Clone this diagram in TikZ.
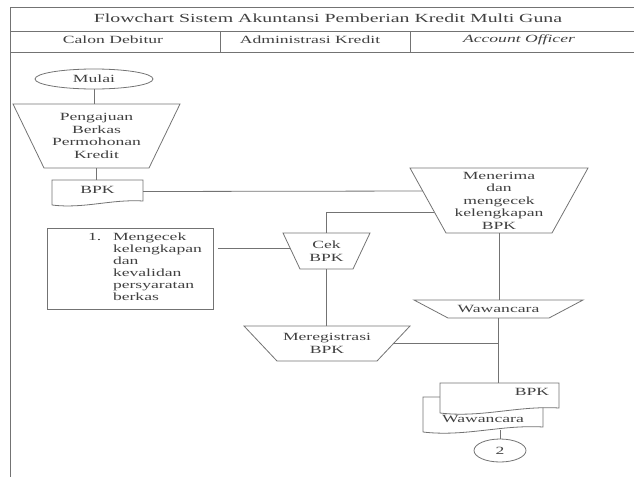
\documentclass[tikz,border=0pt]{standalone}
\usepackage{fontspec}
\setmainfont{Liberation Serif}[FakeStretch=1.6]
\usetikzlibrary{calc,shapes.geometric}
\newcommand\mytrap[2]{%
  \coordinate (#1-tl) at (#1.north west);
  \coordinate (#1-tr) at (#1.north east);
  \coordinate (#1-br) at ($(#1.south east)+(-#2,0)$);
  \coordinate (#1-bl) at ($(#1.south west)+(#2,0)$);
  \draw[line] (#1-tl) -- (#1-tr) -- (#1-br) -- (#1-bl) -- cycle;}
\newcommand\mydoc[2]{%
  \draw[line, fill=white] ($(#1.south west)+(0,#2)$) -- (#1.north west) -- (#1.north east) -- ($(#1.south east)+(0,-#2)$)
    .. controls ($(#1.south west)!0.65!(#1.south east)+(0,-2*#2)$) and ($(#1.south west)!0.35!(#1.south east)+(0,3*#2)$) .. ($(#1.south west)+(0,#2)$);}
\begin{document}
\begin{tikzpicture}[x=1pt,y=-1pt,
  line/.style={draw=black!55, line width=0.8pt},
  txt/.style={text=black!75, font=\fontsize{11}{12.5}\selectfont, align=center, inner sep=0pt, outer sep=0pt},
  shapebox/.style={txt, rectangle, draw=none},
  oval/.style={txt, ellipse, draw=black!55, line width=0.8pt},
  ]
\useasboundingbox (0,0) rectangle (634,477);
% table frame
\draw[line] (634,7) -- (10,7) -- (10,477);
\draw[line] (10,31) -- (634,31);
\draw[line] (10,52) -- (634,52);
\draw[line] (220,31) -- (220,52);
\draw[line] (410,31) -- (410,52);
\node[txt, font=\fontsize{12.4}{14}\selectfont] (title) at (328,18) {Flowchart Sistem Akuntansi Pemberian Kredit Multi Guna};
\node[txt] (h1) at (113,40) {Calon Debitur};
\node[txt] (h2) at (310,40) {Administrasi Kredit};
\node[txt] (h3) at (519,40) {\itshape Account Officer};
% shapes
\node[oval, minimum width=118pt, minimum height=20pt] (mulai) at (94,79) {Mulai};
\node[shapebox, minimum width=167pt, minimum height=64pt] (peng) at (96.5,136) {Pengajuan\\Berkas\\Permohonan\\Kredit};
\mytrap{peng}{31}
\node[shapebox, minimum width=91pt, minimum height=23pt] (bpk1) at (97.5,191.5) {};
\mydoc{bpk1}{2}
\node[txt] (bpk1t) at (97.5,189.5) {BPK};
\node[shapebox, minimum width=178pt, minimum height=65pt] (men) at (499,200.5) {Menerima\\dan\\mengecek\\kelengkapan\\BPK};
\mytrap{men}{36}
\node[shapebox, minimum width=87pt, minimum height=36pt] (cek) at (326.5,251) {Cek\\BPK};
\mytrap{cek}{17}
\node[rectangle, draw=black!55, line width=0.8pt, minimum width=166pt, minimum height=81pt, inner sep=0pt, outer sep=0pt] (box) at (130,268.5) {};
\node[txt, anchor=north west] (boxn) at (88,233) {1.};
\node[txt, anchor=north west, align=left, font=\fontsize{11}{12}\selectfont] (boxt) at (113,233) {Mengecek\\kelengkapan\\dan\\kevalidan\\persyaratan\\berkas};
\node[shapebox, minimum width=169pt, minimum height=18pt] (waw) at (498.5,309) {Wawancara};
\mytrap{waw}{34}
\node[shapebox, minimum width=166pt, minimum height=35pt] (mereg) at (327,343.5) {Meregistrasi\\BPK};
\mytrap{mereg}{33}
\node[shapebox, minimum width=120pt, minimum height=32.5pt] (bwaw) at (483,413.25) {};
\mydoc{bwaw}{2.5}
\node[txt] (bwawt) at (483,419) {Wawancara};
\node[shapebox, minimum width=119pt, minimum height=27.5pt] (bpk2) at (499.5,396.75) {};
\mydoc{bpk2}{2.5}
\node[txt] (bpk2t) at (532,392) {BPK};
\node[oval, minimum width=52pt, minimum height=23pt] (ell2) at (500,450.5) {2};
% connectors
\draw[line] (mulai.south) -- (mulai.south |- peng.north);
\draw[line] (peng.south) -- (peng.south |- bpk1.north);
\coordinate (menA) at ($(men-tl)!0.354!(men-bl)$);
\draw[line] (bpk1.east) -- (menA);
\coordinate (menB) at ($(men-tl)!0.677!(men-bl)$);
\draw[line] (menB) -| (cek.north);
\coordinate (cekL) at ($(cek-tl)!0.417!(cek-bl)$);
\draw[line, shorten >=5pt] (cekL) -- (cekL -| box.east);
\draw[line] (cek.south) -- (cek.south |- mereg.north);
\draw[line] (men.south) -- (men.south |- waw.north);
\draw[line] (waw.south) -- (waw.south |- bpk2.north);
\coordinate (merR) at ($(mereg-tr)!0.5!(mereg-br)$);
\draw[line] (merR) -- (merR -| waw.south);
\draw[line] (ell2.north |- bwaw.south) -- (ell2.north);
\end{tikzpicture}
\end{document}
